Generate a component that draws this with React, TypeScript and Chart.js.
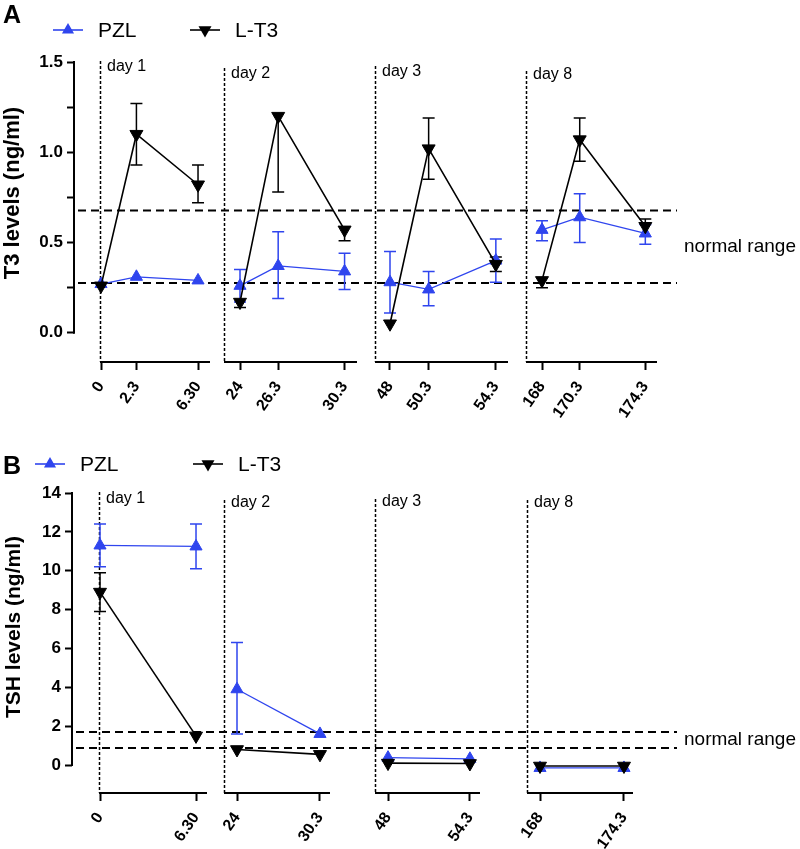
import React, { useEffect, useRef } from "react";
import { Chart, registerables } from "chart.js";

Chart.register(...registerables);

// ---------------- data ----------------
const dayStarts = [0, 24, 48, 168];
const dayNames = ["day 1", "day 2", "day 3", "day 8"];
const seriesNames = ["PZL", "L-T3"];

// Panel A: T3
const t3Times = [0, 2.3, 6.3, 24, 26.3, 30.3, 48, 50.3, 54.3, 168, 170.3, 174.3];
const t3TimeLabels = ["0", "2.3", "6.30", "24", "26.3", "30.3", "48", "50.3", "54.3", "168", "170.3", "174.3"];
const t3Pzl = [0.27, 0.31, 0.29, 0.26, 0.37, 0.34, 0.28, 0.24, 0.4, 0.57, 0.64, 0.55];
const t3PzlHigh = [null, null, null, 0.35, 0.56, 0.44, 0.45, 0.34, 0.52, 0.62, 0.77, 0.6];
const t3PzlLow = [null, null, null, 0.17, 0.19, 0.24, 0.11, 0.15, 0.28, 0.51, 0.5, 0.49];
const t3Lt3 = [0.26, 1.1, 0.82, 0.17, 1.2, 0.57, 0.05, 1.02, 0.38, 0.29, 1.07, 0.59];
const t3Lt3High = [null, 1.27, 0.93, null, null, null, null, 1.19, 0.42, null, 1.19, 0.63];
const t3Lt3Low = [null, 0.93, 0.72, 0.14, 0.78, 0.51, null, 0.85, 0.34, 0.25, 0.95, null];
const t3YTicks = [0, 0.25, 0.5, 0.75, 1, 1.25, 1.5];
const t3YTickLabels = ["0.0", "", "0.5", "", "1.0", "", "1.5"];
const t3NormalRange = [0.276, 0.678];

// Panel B: TSH
const tshTimes = [0, 6.3, 24, 30.3, 48, 54.3, 168, 174.3];
const tshTimeLabels = ["0", "6.30", "24", "30.3", "48", "54.3", "168", "174.3"];
const tshPzl = [11.3, 11.25, 3.9, 1.6, 0.38, 0.32, -0.15, -0.15];
const tshPzlHigh = [12.4, 12.4, 6.3, null, null, null, null, null];
const tshPzlLow = [10.2, 10.1, 1.6, null, null, null, null, null];
const tshLt3 = [8.9, 1.5, 0.8, 0.55, 0.1, 0.08, -0.05, -0.05];
const tshLt3High = [9.9, null, null, null, null, null, null, null];
const tshLt3Low = [7.9, null, null, null, null, null, null, null];
const tshYTicks = [0, 2, 4, 6, 8, 10, 12, 14];
const tshYTickLabels = ["0", "2", "4", "6", "8", "10", "12", "14"];
const tshNormalRange = [0.87, 1.7];

// ---------------- style / layout ----------------
const FONT = "'Liberation Sans', Arial, Helvetica, sans-serif";
const BLUE = "#2f45ee";
const BLACK = "#000000";

const panelA = {
  letter: "A",
  letterBaseline: 23,
  legendY: 30,
  legendX: [53, 190],
  yTitle: "T3 levels (ng/ml)",
  yTitleSize: 22,
  yTitleX: 19,
  yTitleY: 193,
  canvasHeight: 430,
  areaLeft: 74,
  areaRight: 677,
  areaTop: 62,
  areaBottom: 362,
  yMin: -0.162,
  yMax: 1.5,
  yTicks: t3YTicks,
  yTickLabels: t3YTickLabels,
  times: t3Times,
  timeLabels: t3TimeLabels,
  pzl: t3Pzl,
  pzlHigh: t3PzlHigh,
  pzlLow: t3PzlLow,
  lt3: t3Lt3,
  lt3High: t3Lt3High,
  lt3Low: t3Lt3Low,
  normal: t3NormalRange,
  segLine: [26, 150, 301, 452],
  segT0: [27, 166, 316, 468],
  segK: [15.4, 16.6, 16.8, 16.4],
  segEnd: [136, 283, 434, 583],
  segTop: [61, 68, 66, 71],
  dayLabelY: [67, 74, 72, 75],
};

const panelB = {
  letter: "B",
  letterBaseline: 44,
  legendY: 34,
  legendX: [35, 193],
  yTitle: "TSH levels (ng/ml)",
  yTitleSize: 21,
  yTitleX: 20,
  yTitleY: 197,
  canvasHeight: 419,
  areaLeft: 72,
  areaRight: 677,
  areaTop: 63,
  areaBottom: 363,
  yMin: -1.44,
  yMax: 14,
  yTicks: tshYTicks,
  yTickLabels: tshYTickLabels,
  times: tshTimes,
  timeLabels: tshTimeLabels,
  pzl: tshPzl,
  pzlHigh: tshPzlHigh,
  pzlLow: tshPzlLow,
  lt3: tshLt3,
  lt3High: tshLt3High,
  lt3Low: tshLt3Low,
  normal: tshNormalRange,
  segLine: [27, 152, 303, 455],
  segT0: [28, 165, 316, 468],
  segK: [15.24, 13.17, 13.0, 13.33],
  segEnd: [135, 258, 408, 561],
  segTop: [62, 70, 69, 70],
  dayLabelY: [69, 73, 72, 73],
};

function segOf(t: number) {
  let s = 0;
  for (let i = 0; i < dayStarts.length; i++) if (t >= dayStarts[i]) s = i;
  return s;
}

function drawTri(ctx: CanvasRenderingContext2D, x: number, y: number, r: number, down: boolean) {
  ctx.beginPath();
  for (let k = 0; k < 3; k++) {
    const a = (down ? Math.PI : 0) + (k * 2 * Math.PI) / 3;
    const px = x + Math.sin(a) * r;
    const py = y - Math.cos(a) * r;
    if (k === 0) ctx.moveTo(px, py);
    else ctx.lineTo(px, py);
  }
  ctx.closePath();
  ctx.fill();
}

function makeChart(canvas: HTMLCanvasElement, p: any) {
  const toU = (t: number) => {
    const s = segOf(t);
    return p.segT0[s] + (t - dayStarts[s]) * p.segK[s];
  };
  const segIdx = p.times.map(segOf);
  const gapColor = (color: string) => (ctx: any) =>
    segIdx[ctx.p0DataIndex] === segIdx[ctx.p1DataIndex] ? color : "rgba(0,0,0,0)";

  const series = [
    { label: seriesNames[1], values: p.lt3, high: p.lt3High, low: p.lt3Low, color: BLACK, rot: 180, radius: 7.5, lw: 1.6 },
    { label: seriesNames[0], values: p.pzl, high: p.pzlHigh, low: p.pzlLow, color: BLUE, rot: 0, radius: 7, lw: 1.3 },
  ];

  const datasets = series.map((s) => ({
    label: s.label,
    data: p.times.map((t: number, i: number) => ({ x: toU(t), y: s.values[i] })),
    borderColor: s.color,
    backgroundColor: s.color,
    borderWidth: s.lw,
    pointStyle: "triangle",
    pointRotation: s.rot,
    pointRadius: s.radius,
    pointBorderWidth: 1,
    pointBorderColor: s.color,
    pointBackgroundColor: s.color,
    segment: { borderColor: gapColor(s.color) },
    tension: 0,
    clip: false,
    errHigh: s.high,
    errLow: s.low,
  }));

  const panelPlugin = {
    id: "panel" + p.letter,
    beforeDatasetsDraw(chart: any) {
      const ctx = chart.ctx as CanvasRenderingContext2D;
      const xs = chart.scales.x;
      const ys = chart.scales.y;
      const area = chart.chartArea;
      ctx.save();
      ctx.strokeStyle = "#000";
      // y axis line
      ctx.setLineDash([]);
      ctx.lineWidth = 2;
      ctx.beginPath();
      ctx.moveTo(area.left, ys.getPixelForValue(p.yTicks[0]) + 1);
      ctx.lineTo(area.left, ys.getPixelForValue(p.yTicks[p.yTicks.length - 1]) - 1);
      ctx.stroke();
      // segment x axes
      for (let s = 0; s < dayStarts.length; s++) {
        ctx.beginPath();
        ctx.moveTo(xs.getPixelForValue(p.segLine[s]), area.bottom);
        ctx.lineTo(xs.getPixelForValue(p.segEnd[s]), area.bottom);
        ctx.stroke();
      }
      // dotted day separators
      ctx.setLineDash([3, 2]);
      ctx.lineWidth = 1.5;
      for (let s = 0; s < dayStarts.length; s++) {
        const x = Math.round(xs.getPixelForValue(p.segLine[s])) + 0.5;
        ctx.beginPath();
        ctx.moveTo(x, p.segTop[s]);
        ctx.lineTo(x, area.bottom);
        ctx.stroke();
      }
      // normal range dashed lines
      ctx.setLineDash([8, 5]);
      ctx.lineWidth = 2;
      p.normal.forEach((v: number) => {
        const y = ys.getPixelForValue(v);
        ctx.beginPath();
        ctx.moveTo(area.left + 4, y);
        ctx.lineTo(area.right, y);
        ctx.stroke();
      });
      // error bars
      ctx.setLineDash([]);
      chart.data.datasets.forEach((ds: any, di: number) => {
        const meta = chart.getDatasetMeta(di);
        ctx.strokeStyle = ds.borderColor;
        ctx.lineWidth = 1.5;
        meta.data.forEach((el: any, j: number) => {
          [ds.errHigh[j], ds.errLow[j]].forEach((v: number | null) => {
            if (v === null || v === undefined) return;
            const yy = ys.getPixelForValue(v);
            ctx.beginPath();
            ctx.moveTo(el.x, el.y);
            ctx.lineTo(el.x, yy);
            ctx.moveTo(el.x - 6, yy);
            ctx.lineTo(el.x + 6, yy);
            ctx.stroke();
          });
        });
      });
      ctx.restore();
    },
    afterDraw(chart: any) {
      const ctx = chart.ctx as CanvasRenderingContext2D;
      const xs = chart.scales.x;
      const ys = chart.scales.y;
      const area = chart.chartArea;
      ctx.save();
      ctx.fillStyle = "#000";
      // day labels
      ctx.font = `16px ${FONT}`;
      ctx.textAlign = "left";
      ctx.textBaseline = "middle";
      for (let s = 0; s < dayStarts.length; s++) {
        ctx.fillText(dayNames[s], xs.getPixelForValue(p.segLine[s]) + 7, p.dayLabelY[s]);
      }
      // normal range label
      ctx.font = `19px ${FONT}`;
      const yMid = (ys.getPixelForValue(p.normal[0]) + ys.getPixelForValue(p.normal[1])) / 2;
      ctx.fillText("normal range", area.right + 7, yMid);
      // y title
      ctx.save();
      ctx.font = `bold ${p.yTitleSize}px ${FONT}`;
      ctx.translate(p.yTitleX, p.yTitleY);
      ctx.rotate(-Math.PI / 2);
      ctx.textAlign = "center";
      ctx.textBaseline = "alphabetic";
      ctx.fillText(p.yTitle, 0, 0);
      ctx.restore();
      // panel letter
      ctx.font = `bold 25px ${FONT}`;
      ctx.textBaseline = "alphabetic";
      ctx.textAlign = "left";
      ctx.fillText(p.letter, 3, p.letterBaseline);
      // legend
      const legend = [
        { name: seriesNames[0], color: BLUE, down: false, x: p.legendX[0], r: 7 },
        { name: seriesNames[1], color: BLACK, down: true, x: p.legendX[1], r: 7.5 },
      ];
      legend.forEach((l) => {
        ctx.strokeStyle = l.color;
        ctx.fillStyle = l.color;
        ctx.lineWidth = 1.6;
        ctx.beginPath();
        ctx.moveTo(l.x, p.legendY);
        ctx.lineTo(l.x + 30, p.legendY);
        ctx.stroke();
        drawTri(ctx, l.x + 15, p.legendY, l.r, l.down);
        ctx.fillStyle = "#000";
        ctx.font = `21px ${FONT}`;
        ctx.textBaseline = "middle";
        ctx.fillText(l.name, l.x + 45, p.legendY + 1);
      });
      ctx.restore();
    },
  };

  return new Chart(canvas, {
    type: "line",
    data: { datasets: datasets as any },
    options: {
      responsive: false,
      animation: false,
      events: [],
      layout: {
        padding: { left: 0, top: p.areaTop, right: 800 - p.areaRight, bottom: 0 },
      },
      plugins: { legend: { display: false }, tooltip: { enabled: false } },
      scales: {
        x: {
          type: "linear",
          position: "bottom",
          min: 0,
          max: p.areaRight - p.areaLeft,
          afterBuildTicks: (scale: any) => {
            scale.ticks = p.times.map((t: number) => ({ value: toU(t) }));
          },
          afterFit: (scale: any) => {
            scale.height = p.canvasHeight - p.areaBottom;
          },
          ticks: {
            autoSkip: false,
            minRotation: 55,
            maxRotation: 55,
            padding: 8,
            color: "#000",
            font: { family: FONT, size: 16, weight: "bold" },
            callback: (_v: any, i: number) => p.timeLabels[i],
          },
          grid: {
            display: true,
            drawOnChartArea: false,
            drawTicks: true,
            tickLength: 8,
            tickWidth: 2,
            tickColor: "#000",
          },
          border: { display: false },
        },
        y: {
          type: "linear",
          min: p.yMin,
          max: p.yMax,
          afterBuildTicks: (scale: any) => {
            scale.ticks = p.yTicks.map((v: number) => ({ value: v }));
          },
          afterFit: (scale: any) => {
            scale.width = p.areaLeft;
          },
          ticks: {
            autoSkip: false,
            padding: 4,
            color: "#000",
            font: { family: FONT, size: 17, weight: "bold" },
            callback: (_v: any, i: number) => p.yTickLabels[i],
          },
          grid: {
            display: true,
            drawOnChartArea: false,
            drawTicks: true,
            tickLength: 7,
            tickWidth: 2,
            tickColor: "#000",
          },
          border: { display: false },
        },
      },
    },
    plugins: [panelPlugin],
  } as any);
}

export default function App() {
  const refA = useRef<HTMLCanvasElement>(null);
  const refB = useRef<HTMLCanvasElement>(null);
  useEffect(() => {
    const a = makeChart(refA.current!, panelA);
    const b = makeChart(refB.current!, panelB);
    return () => {
      a.destroy();
      b.destroy();
    };
  }, []);
  return (
    <div style={{ position: "absolute", left: 0, top: 0, width: 800, height: 849, background: "#fff" }}>
      <canvas ref={refA} width={800} height={430} style={{ position: "absolute", left: 0, top: 0 }} />
      <canvas ref={refB} width={800} height={419} style={{ position: "absolute", left: 0, top: 430 }} />
    </div>
  );
}
